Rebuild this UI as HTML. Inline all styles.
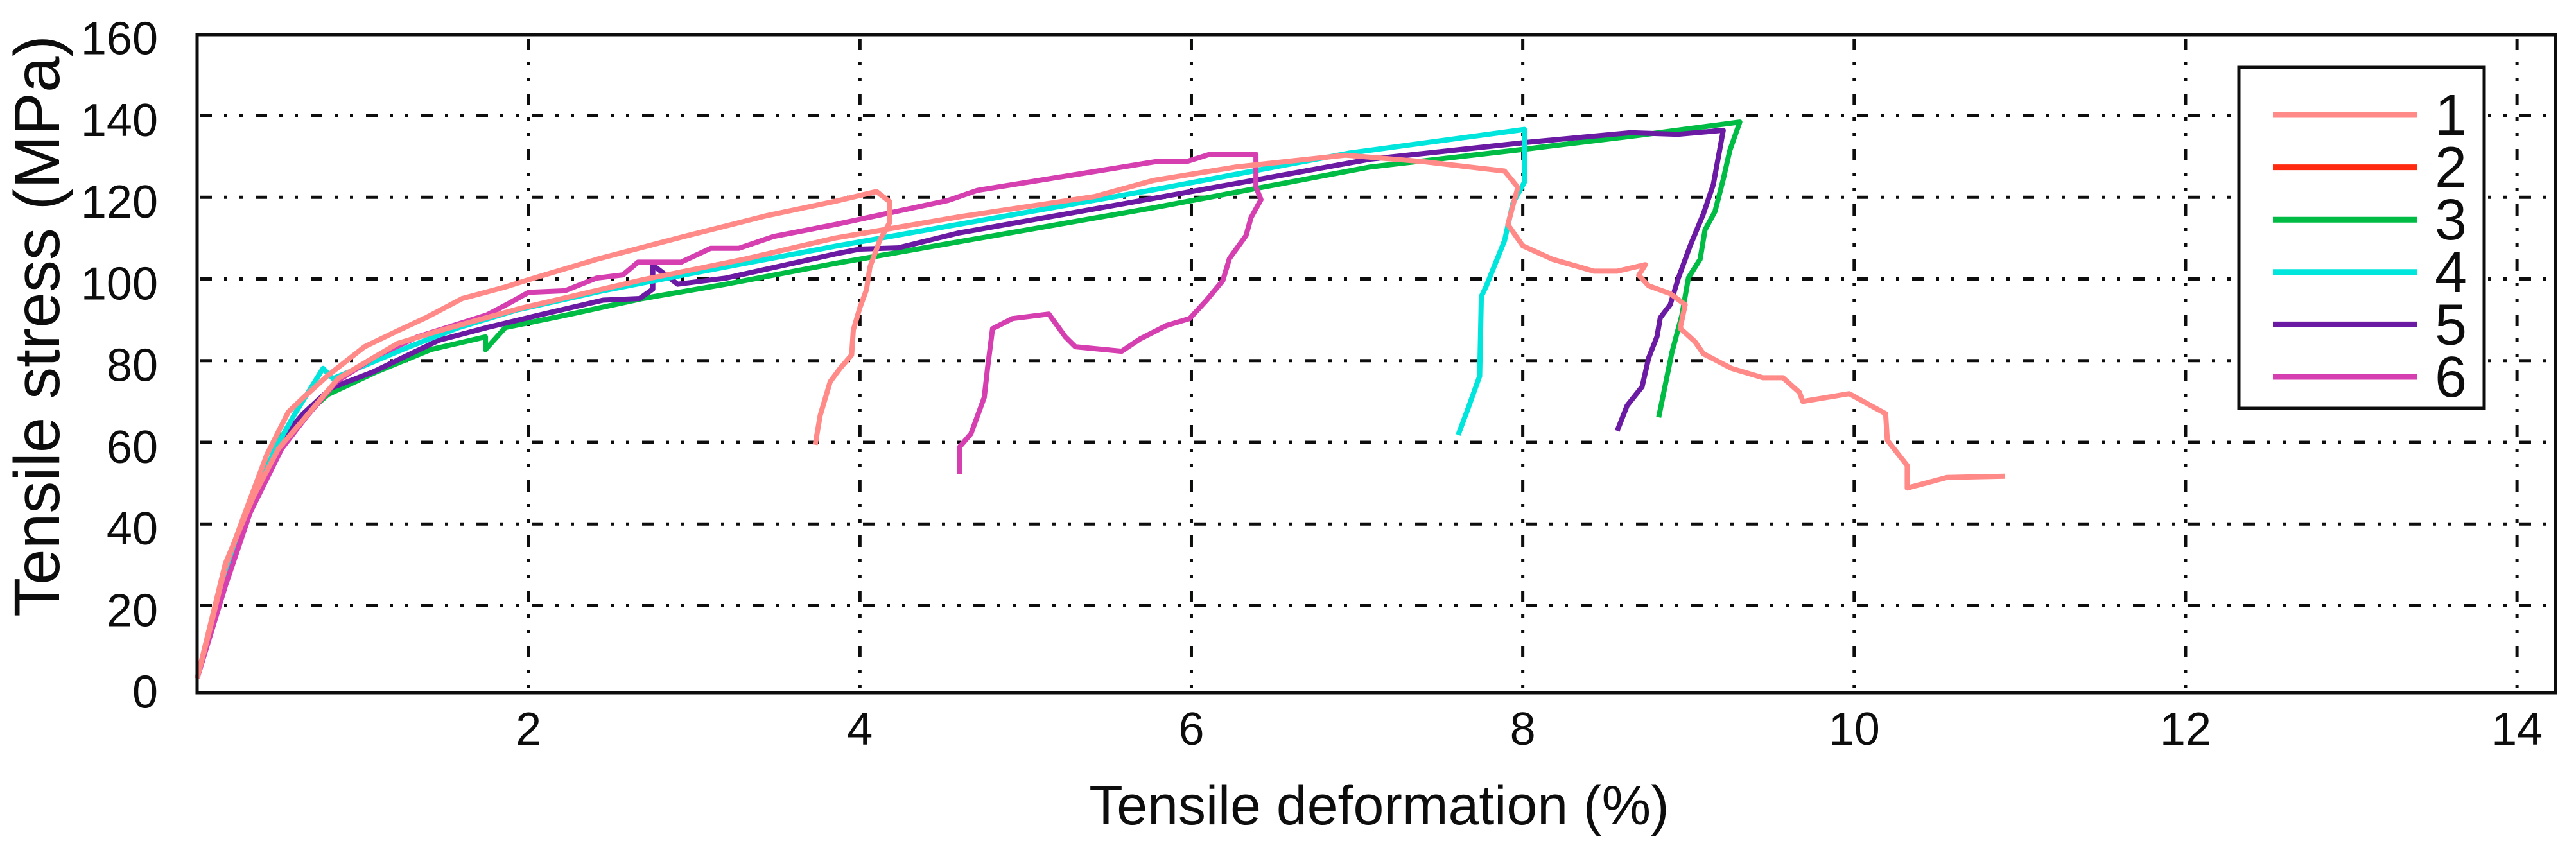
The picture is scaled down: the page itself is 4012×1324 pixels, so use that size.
<!DOCTYPE html>
<html><head><meta charset="utf-8"><style>
html,body{margin:0;padding:0;background:#fff;}
svg{display:block;font-family:"Liberation Sans",Arial,sans-serif;}
</style></head><body>
<svg id="chart" width="4012" height="1324" viewBox="0 0 4012 1324" xmlns="http://www.w3.org/2000/svg">
<rect width="4012" height="1324" fill="#fff"/>
<g id="grid"></g>
<g id="series"></g>
<rect x="307" y="54" width="3673" height="1025" fill="none" stroke="#0c0d0c" stroke-width="5"/>
<g id="ticks"></g>
<text x="2148" y="1284" font-size="86" text-anchor="middle" fill="#0c0d0c">Tensile deformation (%)</text>
<text transform="translate(92,508) rotate(-90)" font-size="100" text-anchor="middle" fill="#0c0d0c">Tensile stress (MPa)</text>
<g id="legend"></g>
</svg>
<script>
const xTicks = [2, 4, 6, 8, 10, 12, 14];
const yTicks = [0, 20, 40, 60, 80, 100, 120, 140, 160];
const seriesNames = ['1', '2', '3', '4', '5', '6'];
const seriesColors = ['#ff8a87', '#ff2a10', '#00bb44', '#00e5dc', '#6a1aa3', '#d63fb0'];
const s1aX = [0,0.07,0.17,0.29,0.42,0.55,0.64,0.79,1.01,1.21,1.38,1.6,1.85,2.0,2.42,2.94,3.44,3.85,4.1,4.18,4.18,4.12,4.06,4.04,4.0,3.96,3.95,3.88,3.82,3.76,3.73];
const s1aY = [2.2,13.1,29.5,42.8,56.9,67.4,70.9,76.4,83.4,87.3,90.5,95.2,97.9,99.8,104.9,110.4,115.5,119,121.4,118.9,113.9,109.5,102.9,97.4,93,87.5,81.4,78.1,74.8,66.6,59.4];
const s1bX = [0,0.17,0.34,0.49,0.64,0.85,1.21,1.46,1.95,2.69,3.31,3.85,4.6,5.42,5.77,6.27,6.93,7.4,7.89,7.97,7.91,8.0,8.18,8.43,8.57,8.74,8.7,8.76,8.89,8.98,8.95,9.04,9.09,9.26,9.45,9.57,9.67,9.69,9.97,10.19,10.2,10.32,10.32,10.56,10.91];
const s1bY = [2.2,30.3,46.7,58.4,65.5,75.6,84.2,87.3,92.8,99.8,104.9,110,115.2,120.2,124.1,127.4,130.3,128.7,126.4,122.4,113.3,108.1,104.8,101.9,101.9,103.5,100.9,98.3,96.4,93.7,87.9,84.6,81.7,78.1,75.8,75.8,72.2,70,71.9,67,60.5,54.3,48.8,51.4,51.7];
const s3X = [0,0.14,0.34,0.51,0.79,1.08,1.41,1.74,1.74,1.86,2.2,2.69,3.19,3.85,5.77,7.08,8.02,8.71,9.31,9.25,9.21,9.16,9.1,9.07,9.0,8.96,8.9,8.82];
const s3Y = [2.2,23.3,46.7,61.6,71.7,77.2,82.7,85.8,82.7,88.1,90.9,95.2,98.7,103.8,117.4,127.4,131.8,135.2,138.4,131.5,124.4,116.5,112,104.8,100.3,91.1,82,66.1];
const s4X = [0,0.17,0.34,0.47,0.59,0.76,0.82,1.01,1.28,1.58,1.93,2.45,2.94,3.85,5.77,6.95,8.01,8.01,7.94,7.89,7.78,7.75,7.74,7.67,7.61];
const s4Y = [2.2,27.2,45.2,58.4,67,78.1,75.6,78.8,83.4,88.1,92.4,97.1,101,108,121.8,130.8,136.6,123.7,118.5,109.4,98.3,95.7,76.2,68.3,61.8];
const s5X = [0,0.17,0.34,0.51,0.64,0.81,1.06,1.46,1.75,2.07,2.45,2.67,2.75,2.75,2.9,3.19,3.85,4.0,4.23,4.59,5.77,7.08,8.02,8.65,8.94,9.21,9.15,9.09,9.01,8.94,8.89,8.83,8.81,8.76,8.72,8.63,8.57];
const s5Y = [2.2,27.2,45.9,60.8,67,73.3,77.2,85,88.1,91.2,94.8,95.2,97.5,103.4,98.7,100.2,106.1,107.3,107.6,111.2,119.7,129.3,133.4,135.8,135.4,136.4,123.1,115.9,108.1,100.3,93.7,90.5,85.9,80.7,73.6,69,62.8];
const s6X = [0,0.17,0.32,0.51,0.66,0.84,1.08,1.33,1.75,1.88,2.0,2.22,2.41,2.57,2.66,2.92,3.1,3.27,3.48,3.85,4.53,4.71,5.8,5.97,6.11,6.39,6.39,6.42,6.36,6.33,6.23,6.19,6.09,5.99,5.85,5.69,5.58,5.3,5.24,5.14,4.92,4.8,4.77,4.75,4.67,4.6,4.6];
const s6Y = [2.2,24.8,42.8,58.4,66.3,74.8,81.1,85.8,91.2,94,96.7,97.1,100.2,101,104.1,104.1,107.5,107.5,110.4,113.3,119.2,121.7,128.8,128.7,130.5,130.5,122.5,119.4,115,110.6,105,99.6,94.7,90.3,88.6,85.3,82.3,83.4,85.8,91.4,90.3,87.8,78.1,71,62.1,58.8,52.2];

const NS = 'http://www.w3.org/2000/svg';
function sx(v){ return 307 + v * 258.08; }
function sy(v){ return 1070.7 - v * 6.3625; }
const grid = document.getElementById('grid');
const ticks = document.getElementById('ticks');
const dash = '18 19 5 19 5 20';
xTicks.forEach(t => {
  const l = document.createElementNS(NS, 'line');
  
  
  l.setAttribute('x1', sx(t)); l.setAttribute('x2', sx(t));
  l.setAttribute('y1', 60); l.setAttribute('y2', 1076);
  l.setAttribute('stroke', '#0c0d0c'); l.setAttribute('stroke-width', 5);
  l.setAttribute('stroke-dasharray', dash);
  grid.appendChild(l);
  const tx = document.createElementNS(NS, 'text');
  
  
  tx.setAttribute('x', sx(t)); tx.setAttribute('y', 1160);
  tx.setAttribute('font-size', 72); tx.setAttribute('text-anchor', 'middle'); tx.setAttribute('fill', '#0c0d0c');
  tx.textContent = t;
  ticks.appendChild(tx);
});
yTicks.forEach(t => {
  if (t > 0 && t < 160) {
    const l = document.createElementNS(NS, 'line');
    
    
    l.setAttribute('x1', 312); l.setAttribute('x2', 3976);
    l.setAttribute('y1', sy(t)); l.setAttribute('y2', sy(t));
    l.setAttribute('stroke', '#0c0d0c'); l.setAttribute('stroke-width', 5);
    l.setAttribute('stroke-dasharray', dash);
    grid.appendChild(l);
  }
  const tx = document.createElementNS(NS, 'text');
  
  
  tx.setAttribute('x', 246); tx.setAttribute('y', sy(t) + 32);
  tx.setAttribute('font-size', 72); tx.setAttribute('text-anchor', 'end'); tx.setAttribute('fill', '#0c0d0c');
  tx.textContent = t;
  ticks.appendChild(tx);
});
const seriesList = [
  {xs: s1aX, ys: s1aY, c: seriesColors[0], n: 'series-1-curve-a'},
  {xs: s1bX, ys: s1bY, c: seriesColors[0], n: 'series-1-curve-b'},
  {xs: s3X, ys: s3Y, c: seriesColors[2], n: 'series-3-curve'},
  {xs: s4X, ys: s4Y, c: seriesColors[3], n: 'series-4-curve'},
  {xs: s5X, ys: s5Y, c: seriesColors[4], n: 'series-5-curve'},
  {xs: s6X, ys: s6Y, c: seriesColors[5], n: 'series-6-curve'}
];
const order = [2, 4, 3, 5, 1, 0];
const sg = document.getElementById('series');
order.forEach(i => {
  const s = seriesList[i];
  const p = document.createElementNS(NS, 'polyline');
  
  
  p.setAttribute('points', s.xs.map((x, k) => sx(x).toFixed(1) + ',' + sy(s.ys[k]).toFixed(1)).join(' '));
  p.setAttribute('fill', 'none'); p.setAttribute('stroke', s.c);
  p.setAttribute('stroke-width', 8); p.setAttribute('stroke-linejoin', 'round');
  sg.appendChild(p);
});
const lg = document.getElementById('legend');
const box = document.createElementNS(NS, 'rect');


box.setAttribute('x', 3487); box.setAttribute('y', 105); box.setAttribute('width', 382); box.setAttribute('height', 531);
box.setAttribute('fill', '#fff'); box.setAttribute('stroke', '#0c0d0c'); box.setAttribute('stroke-width', 5);
lg.appendChild(box);
seriesNames.forEach((nm, i) => {
  const y = 179 + i * 81.6;
  const l = document.createElementNS(NS, 'line');
  
  
  l.setAttribute('x1', 3540); l.setAttribute('x2', 3764); l.setAttribute('y1', y); l.setAttribute('y2', y);
  l.setAttribute('stroke', seriesColors[i]); l.setAttribute('stroke-width', 9);
  lg.appendChild(l);
  const t = document.createElementNS(NS, 'text');
  
  
  t.setAttribute('x', 3792); t.setAttribute('y', y + 31);
  t.setAttribute('font-size', 90); t.setAttribute('fill', '#0c0d0c');
  t.textContent = nm;
  lg.appendChild(t);
});
</script>
</body></html>
